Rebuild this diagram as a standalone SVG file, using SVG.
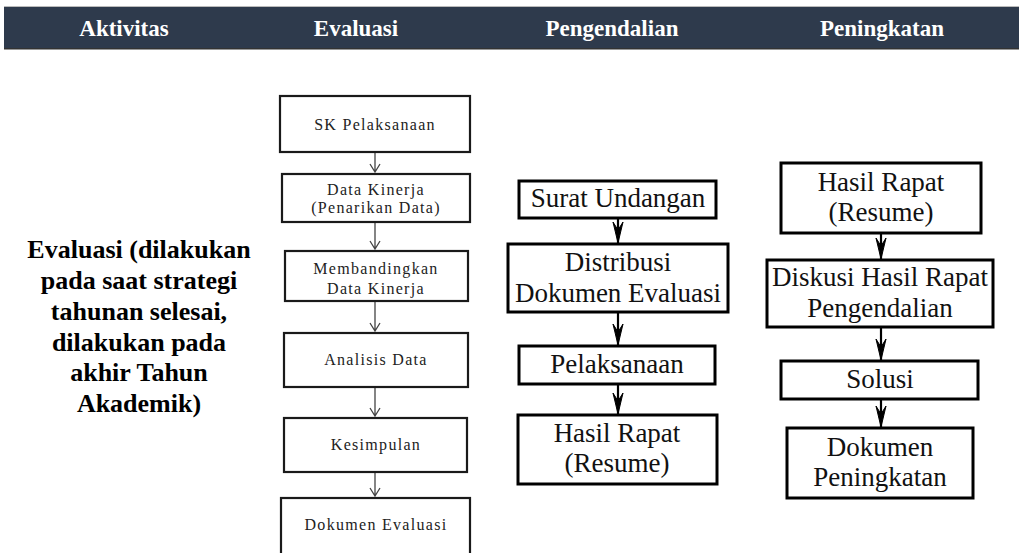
<svg xmlns="http://www.w3.org/2000/svg" width="1019" height="553" viewBox="0 0 1019 553">
<defs>
<style>
text{font-family:'Liberation Serif','Times New Roman',serif}
.hdr{font-weight:bold;font-size:23px;fill:#ffffff;text-anchor:middle}
.lbl{font-weight:bold;font-size:26px;fill:#000;text-anchor:middle}
.sm{font-size:16px;letter-spacing:1.3px;fill:#222;text-anchor:middle}
.big{font-size:27px;fill:#111;text-anchor:middle}
.b1{fill:#fff;stroke:#1a1a1a;stroke-width:2.2}
.b2{fill:#fff;stroke:#000;stroke-width:3}
.c1{stroke:#444;stroke-width:1.3;fill:none}
.c2{stroke:#000;stroke-width:2.2;fill:none}
.h2{fill:#000;stroke:#000;stroke-width:1;stroke-linejoin:miter}
</style>
</defs>
<g id="header">
<rect x="4" y="6" width="1015" height="1" fill="#bbbbbb"/>
<rect x="4" y="7" width="1015" height="41" fill="#2e3a4c"/>
<rect x="4" y="48" width="1015" height="1.5" fill="#333"/>
<text class="hdr" x="124" y="36">Aktivitas</text>
<text class="hdr" x="356" y="36">Evaluasi</text>
<text class="hdr" x="612" y="36">Pengendalian</text>
<text class="hdr" x="882" y="36">Peningkatan</text>
</g>
<g id="activity-label">
<text class="lbl" x="139" y="258">Evaluasi (dilakukan</text>
<text class="lbl" x="139" y="289">pada saat strategi</text>
<text class="lbl" x="139" y="320">tahunan selesai,</text>
<text class="lbl" x="139" y="351">dilakukan pada</text>
<text class="lbl" x="139" y="381">akhir Tahun</text>
<text class="lbl" x="139" y="412">Akademik)</text>
</g>
<g id="connectors">
<path class="c1" d="M375,152 V172 M370,164 L375,172 L380,164"/>
<path class="c1" d="M375,222 V249 M370,241 L375,249 L380,241"/>
<path class="c1" d="M375,301 V331 M370,323 L375,331 L380,323"/>
<path class="c1" d="M375,387 V416 M370,408 L375,416 L380,408"/>
<path class="c1" d="M375,472 V496 M370,488 L375,496 L380,488"/>
<path class="c2" d="M618,218 V243"/><path class="h2" d="M613,222 L618,243 L623,222 L618,230 Z"/>
<path class="c2" d="M618,312 V345"/><path class="h2" d="M613,324 L618,345 L623,324 L618,332 Z"/>
<path class="c2" d="M618,384 V414"/><path class="h2" d="M613,393 L618,414 L623,393 L618,401 Z"/>
<path class="c2" d="M881,233 V259"/><path class="h2" d="M876,238 L881,259 L886,238 L881,246 Z"/>
<path class="c2" d="M881,327 V360"/><path class="h2" d="M876,339 L881,360 L886,339 L881,347 Z"/>
<path class="c2" d="M881,399 V427"/><path class="h2" d="M876,406 L881,427 L886,406 L881,414 Z"/>
</g>
<g id="sk-pelaksanaan"><rect class="b1" x="280" y="96" width="190" height="56"/><text class="sm" x="375" y="130">SK Pelaksanaan</text></g>
<g id="data-kinerja"><rect class="b1" x="282" y="174" width="188" height="48"/><text class="sm" x="376" y="195">Data Kinerja</text><text class="sm" x="376" y="213">(Penarikan Data)</text></g>
<g id="membandingkan"><rect class="b1" x="285" y="251" width="183" height="50"/><text class="sm" x="376" y="274">Membandingkan</text><text class="sm" x="376" y="294">Data Kinerja</text></g>
<g id="analisis-data"><rect class="b1" x="284" y="333" width="184" height="54"/><text class="sm" x="376" y="365">Analisis Data</text></g>
<g id="kesimpulan"><rect class="b1" x="284" y="418" width="183" height="54"/><text class="sm" x="376" y="450">Kesimpulan</text></g>
<g id="dokumen-evaluasi"><rect class="b1" x="281" y="498" width="189" height="58"/><text class="sm" x="376" y="530">Dokumen Evaluasi</text></g>
<g id="surat-undangan"><rect class="b2" x="519" y="181" width="197" height="37"/><text class="big" x="618" y="207">Surat Undangan</text></g>
<g id="distribusi"><rect class="b2" x="508" y="244" width="220" height="68"/><text class="big" x="618" y="271">Distribusi</text><text class="big" x="618" y="302">Dokumen Evaluasi</text></g>
<g id="pelaksanaan"><rect class="b2" x="519" y="346" width="196" height="38"/><text class="big" x="617" y="373">Pelaksanaan</text></g>
<g id="hasil-rapat-p"><rect class="b2" x="518" y="415" width="199" height="69"/><text class="big" x="617" y="442">Hasil Rapat</text><text class="big" x="617" y="472">(Resume)</text></g>
<g id="hasil-rapat-r"><rect class="b2" x="781" y="163" width="200" height="70"/><text class="big" x="881" y="191">Hasil Rapat</text><text class="big" x="881" y="221">(Resume)</text></g>
<g id="diskusi"><rect class="b2" x="767" y="260" width="226" height="67"/><text class="big" x="880" y="286">Diskusi Hasil Rapat</text><text class="big" x="880" y="317">Pengendalian</text></g>
<g id="solusi"><rect class="b2" x="781" y="361" width="197" height="38"/><text class="big" x="880" y="388">Solusi</text></g>
<g id="dokumen-peningkatan"><rect class="b2" x="787" y="428" width="186" height="70"/><text class="big" x="880" y="456">Dokumen</text><text class="big" x="880" y="486">Peningkatan</text></g>
</svg>
